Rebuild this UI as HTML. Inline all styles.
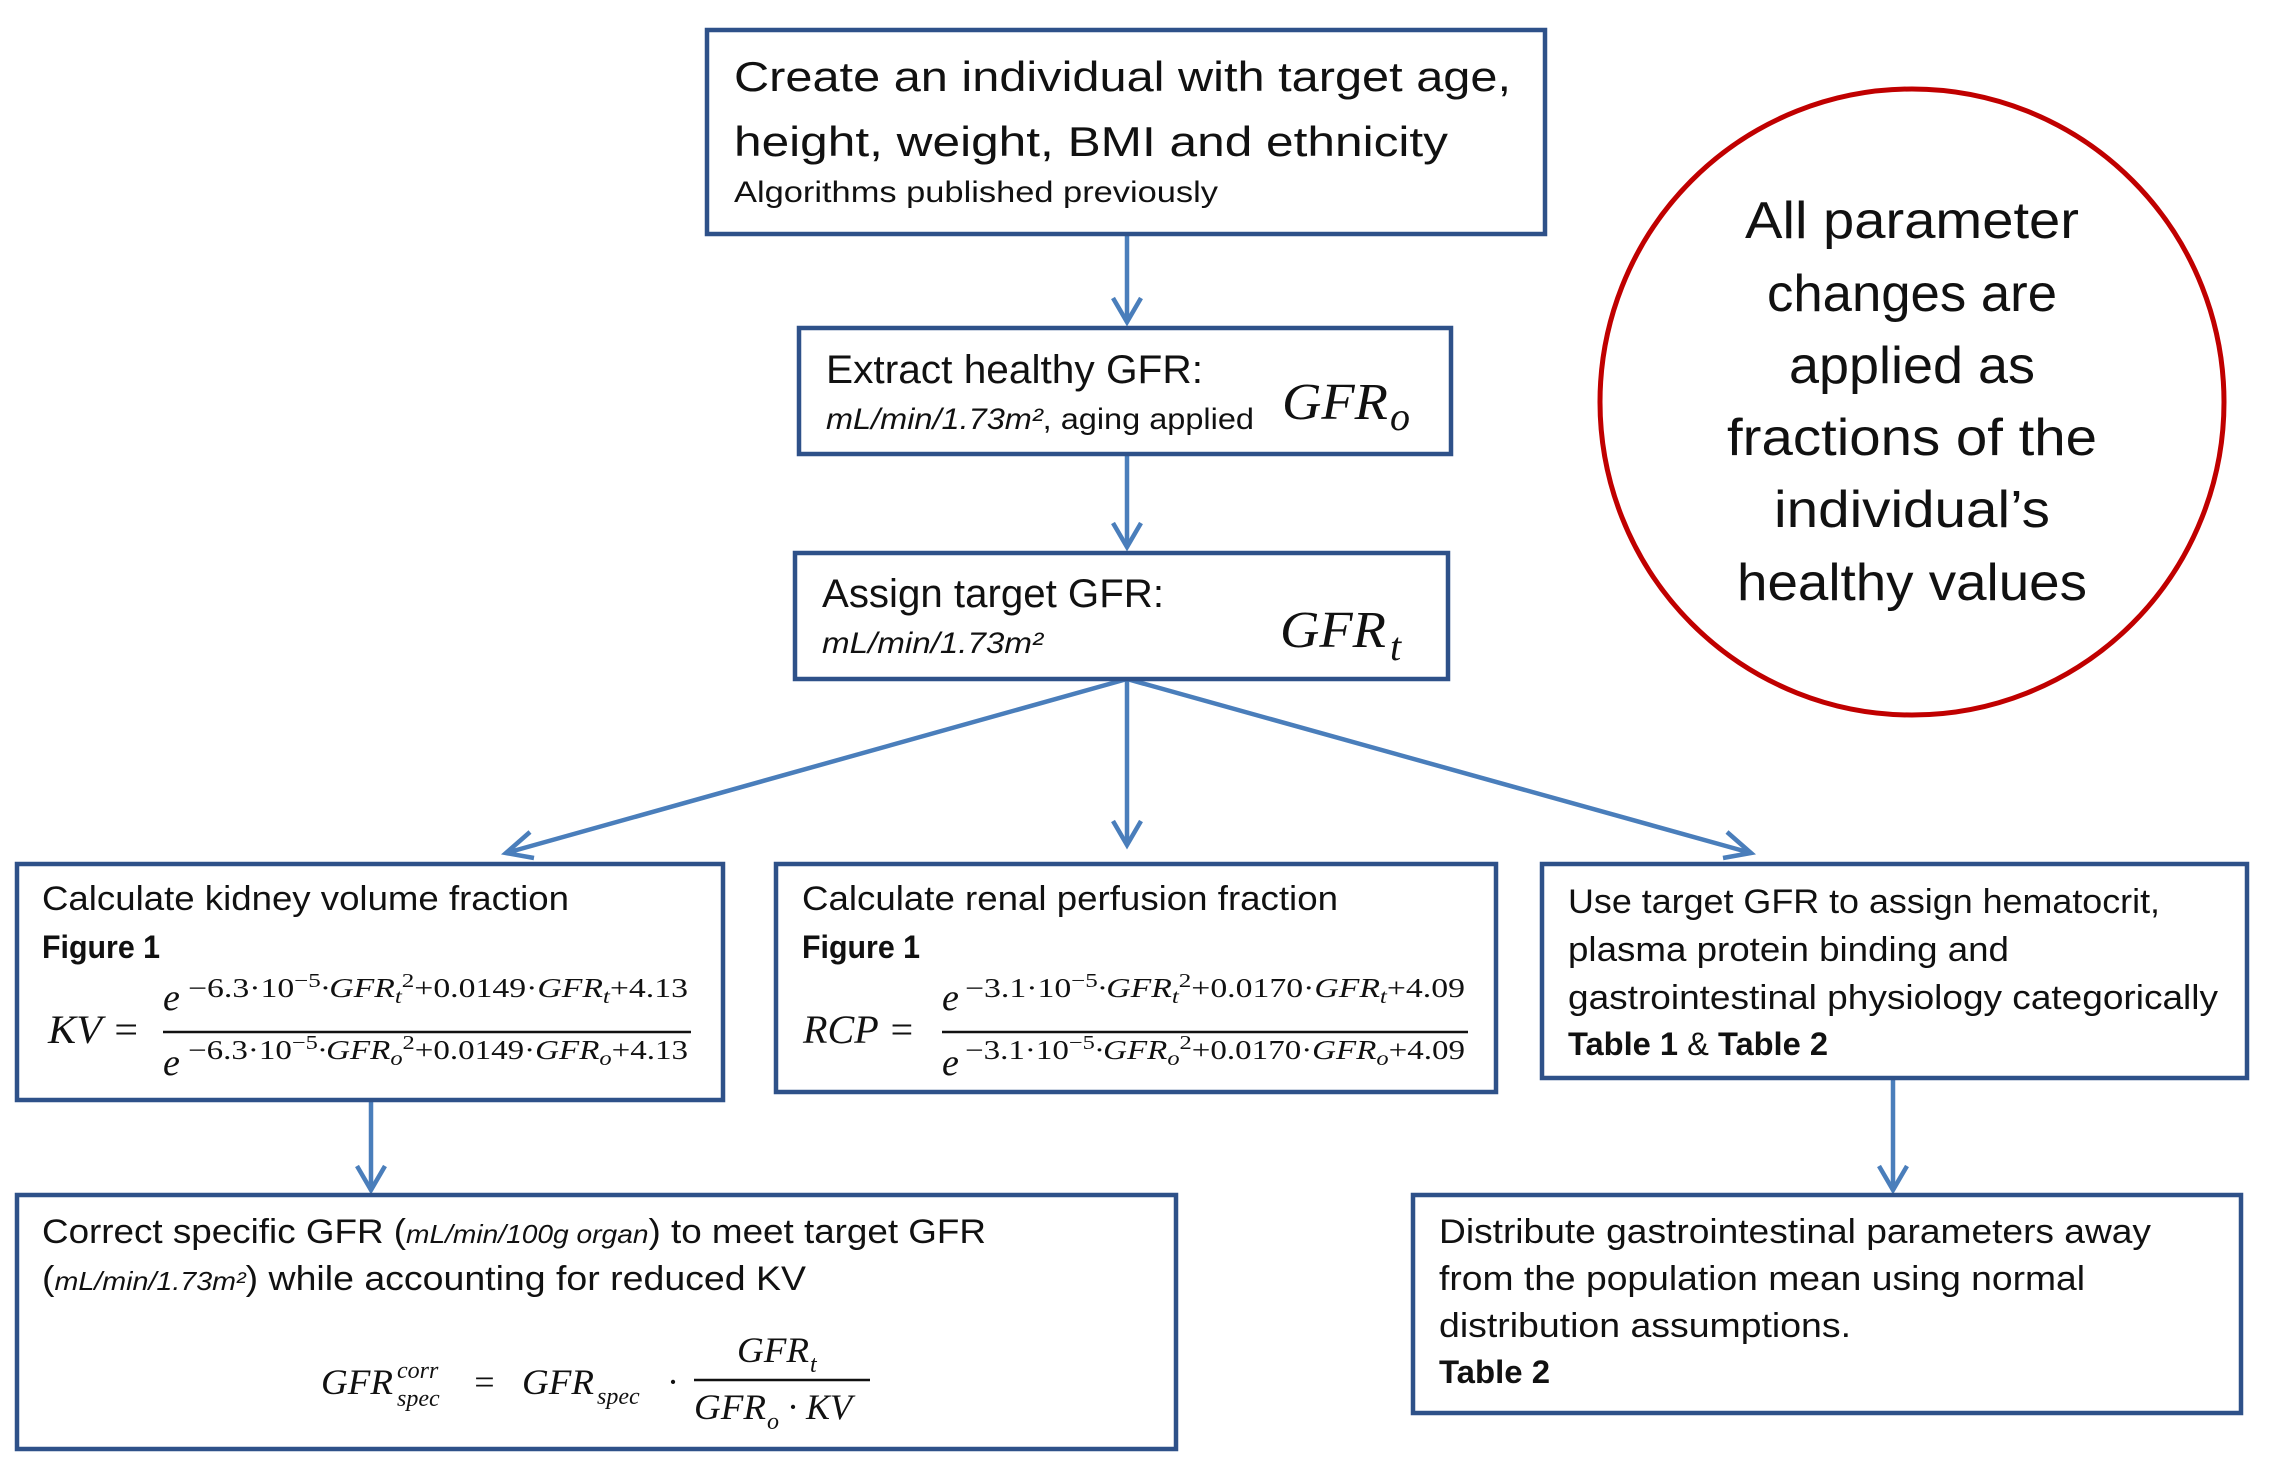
<!DOCTYPE html>
<html><head><meta charset="utf-8"><style>
html,body{margin:0;padding:0;background:#fff;}
svg{display:block;}
.t{font-family:"Liberation Sans",sans-serif;fill:#111;}
.m{font-family:"Liberation Serif",serif;font-style:italic;fill:#111;}
.box{fill:#fff;stroke:#2e5189;stroke-width:4.5;}
.ar{stroke:#4a7ebb;stroke-width:4.5;fill:none;}
</style></head><body>
<svg width="2269" height="1467" viewBox="0 0 2269 1467" xmlns="http://www.w3.org/2000/svg">
<!-- arrows -->
<g class="ar">
<line x1="1127" y1="234" x2="1127" y2="322"/><polyline points="1113,298 1127,322 1141,298"/>
<line x1="1127" y1="454" x2="1127" y2="547"/><polyline points="1113,523 1127,547 1141,523"/>
<line x1="1127" y1="679" x2="506" y2="853"/><polyline points="530,832 506,853 534,858"/>
<line x1="1127" y1="679" x2="1127" y2="845"/><polyline points="1113,821 1127,845 1141,821"/>
<line x1="1127" y1="679" x2="1751" y2="853"/><polyline points="1723,858 1751,853 1727,832"/>
<line x1="371" y1="1100" x2="371" y2="1190"/><polyline points="357,1166 371,1190 385,1166"/>
<line x1="1893" y1="1078" x2="1893" y2="1190"/><polyline points="1879,1166 1893,1190 1907,1166"/>
</g>
<!-- boxes -->
<rect class="box" x="707" y="30" width="838" height="204"/>
<rect class="box" x="799" y="328" width="652" height="126"/>
<rect class="box" x="795" y="553" width="653" height="126"/>
<rect class="box" x="17" y="864" width="706" height="236"/>
<rect class="box" x="776" y="864" width="720" height="228"/>
<rect class="box" x="1542" y="864" width="705" height="214"/>
<rect class="box" x="17" y="1195" width="1159" height="254"/>
<rect class="box" x="1413" y="1195" width="828" height="218"/>
<ellipse cx="1912" cy="402" rx="312" ry="313" fill="#fff" stroke="#c00000" stroke-width="5"/>

<!-- box1 -->
<text class="t" x="734" y="91" font-size="42" textLength="777" lengthAdjust="spacingAndGlyphs">Create an individual with target age,</text>
<text class="t" x="734" y="156" font-size="42" textLength="714" lengthAdjust="spacingAndGlyphs">height, weight, BMI and ethnicity</text>
<text class="t" x="734" y="202" font-size="30" textLength="484" lengthAdjust="spacingAndGlyphs">Algorithms published previously</text>
<!-- box2 -->
<text class="t" x="826" y="383" font-size="40" textLength="377" lengthAdjust="spacingAndGlyphs">Extract healthy GFR:</text>
<text class="t" x="826" y="429" font-size="30" textLength="428" lengthAdjust="spacingAndGlyphs"><tspan font-style="italic">mL/min/1.73m²</tspan>, aging applied</text>
<text class="m" x="1282" y="419" font-size="52" textLength="106" lengthAdjust="spacingAndGlyphs">GFR</text>
<text class="m" x="1390" y="430" font-size="40">o</text>
<!-- box3 -->
<text class="t" x="822" y="607" font-size="40" textLength="342" lengthAdjust="spacingAndGlyphs">Assign target GFR:</text>
<text class="t" x="822" y="653" font-size="30" font-style="italic" textLength="221" lengthAdjust="spacingAndGlyphs">mL/min/1.73m²</text>
<text class="m" x="1280" y="647" font-size="52" textLength="106" lengthAdjust="spacingAndGlyphs">GFR</text>
<text class="m" x="1390" y="660" font-size="40">t</text>
<!-- circle -->
<g class="t" font-size="52" text-anchor="middle">
<text x="1912" y="238" textLength="334" lengthAdjust="spacingAndGlyphs">All parameter</text>
<text x="1912" y="311" textLength="290" lengthAdjust="spacingAndGlyphs">changes are</text>
<text x="1912" y="383" textLength="246" lengthAdjust="spacingAndGlyphs">applied as</text>
<text x="1912" y="455" textLength="370" lengthAdjust="spacingAndGlyphs">fractions of the</text>
<text x="1912" y="527" textLength="276" lengthAdjust="spacingAndGlyphs">individual’s</text>
<text x="1912" y="600" textLength="350" lengthAdjust="spacingAndGlyphs">healthy values</text>
</g>
<!-- box4 -->
<text class="t" x="42" y="910" font-size="34" textLength="527" lengthAdjust="spacingAndGlyphs">Calculate kidney volume  fraction</text>
<text class="t" x="42" y="958" font-size="32" font-weight="bold" textLength="118" lengthAdjust="spacingAndGlyphs">Figure 1</text>
<text class="m" x="48" y="1043" font-size="40" textLength="92" lengthAdjust="spacingAndGlyphs">KV =</text>
<line x1="163" y1="1032" x2="691" y2="1032" stroke="#111" stroke-width="2.5"/>
<text class="m" x="163" y="1010" font-size="38">e</text>
<text class="m" x="188" y="997" font-size="27" textLength="500" lengthAdjust="spacingAndGlyphs"><tspan font-style="normal">−6.3·10</tspan><tspan font-style="normal" dy="-10" font-size="20">−5</tspan><tspan dy="10">·GFR</tspan><tspan font-size="20" dy="6">t</tspan><tspan font-style="normal" font-size="20" dy="-16">2</tspan><tspan font-style="normal" dy="10">+0.0149·</tspan>GFR<tspan font-size="20" dy="6">t</tspan><tspan font-style="normal" dy="-6">+4.13</tspan></text>
<text class="m" x="163" y="1075" font-size="38">e</text>
<text class="m" x="188" y="1059" font-size="27" textLength="500" lengthAdjust="spacingAndGlyphs"><tspan font-style="normal">−6.3·10</tspan><tspan font-style="normal" dy="-10" font-size="20">−5</tspan><tspan dy="10">·GFR</tspan><tspan font-size="20" dy="6">o</tspan><tspan font-style="normal" font-size="20" dy="-16">2</tspan><tspan font-style="normal" dy="10">+0.0149·</tspan>GFR<tspan font-size="20" dy="6">o</tspan><tspan font-style="normal" dy="-6">+4.13</tspan></text>
<!-- box5 -->
<text class="t" x="802" y="910" font-size="34" textLength="536" lengthAdjust="spacingAndGlyphs">Calculate renal perfusion fraction</text>
<text class="t" x="802" y="958" font-size="32" font-weight="bold" textLength="118" lengthAdjust="spacingAndGlyphs">Figure 1</text>
<text class="m" x="803" y="1043" font-size="40" textLength="112" lengthAdjust="spacingAndGlyphs">RCP =</text>
<line x1="942" y1="1032" x2="1468" y2="1032" stroke="#111" stroke-width="2.5"/>
<text class="m" x="942" y="1010" font-size="38">e</text>
<text class="m" x="965" y="997" font-size="27" textLength="500" lengthAdjust="spacingAndGlyphs"><tspan font-style="normal">−3.1·10</tspan><tspan font-style="normal" dy="-10" font-size="20">−5</tspan><tspan dy="10">·GFR</tspan><tspan font-size="20" dy="6">t</tspan><tspan font-style="normal" font-size="20" dy="-16">2</tspan><tspan font-style="normal" dy="10">+0.0170·</tspan>GFR<tspan font-size="20" dy="6">t</tspan><tspan font-style="normal" dy="-6">+4.09</tspan></text>
<text class="m" x="942" y="1075" font-size="38">e</text>
<text class="m" x="965" y="1059" font-size="27" textLength="500" lengthAdjust="spacingAndGlyphs"><tspan font-style="normal">−3.1·10</tspan><tspan font-style="normal" dy="-10" font-size="20">−5</tspan><tspan dy="10">·GFR</tspan><tspan font-size="20" dy="6">o</tspan><tspan font-style="normal" font-size="20" dy="-16">2</tspan><tspan font-style="normal" dy="10">+0.0170·</tspan>GFR<tspan font-size="20" dy="6">o</tspan><tspan font-style="normal" dy="-6">+4.09</tspan></text>
<!-- box6 -->
<g class="t" font-size="34">
<text x="1568" y="913" textLength="592" lengthAdjust="spacingAndGlyphs">Use target GFR to assign hematocrit,</text>
<text x="1568" y="961" textLength="441" lengthAdjust="spacingAndGlyphs">plasma protein binding and</text>
<text x="1568" y="1009" textLength="650" lengthAdjust="spacingAndGlyphs">gastrointestinal physiology categorically</text>
<text x="1568" y="1055" textLength="260" lengthAdjust="spacingAndGlyphs" font-size="32"><tspan font-weight="bold">Table 1</tspan> &amp; <tspan font-weight="bold">Table 2</tspan></text>
</g>
<!-- box7 -->
<text class="t" x="42" y="1243" font-size="34" textLength="944" lengthAdjust="spacingAndGlyphs">Correct specific GFR (<tspan font-style="italic" font-size="26">mL/min/100g organ</tspan>) to meet target GFR</text>
<text class="t" x="42" y="1290" font-size="34" textLength="764" lengthAdjust="spacingAndGlyphs">(<tspan font-style="italic" font-size="26">mL/min/1.73m²</tspan>) while accounting for reduced KV</text>
<text class="m" x="321" y="1394" font-size="36" textLength="72" lengthAdjust="spacingAndGlyphs">GFR</text>
<text class="m" x="397" y="1378" font-size="24">corr</text>
<text class="m" x="397" y="1406" font-size="24">spec</text>
<text class="m" x="472" y="1394" font-size="36">=</text>
<text class="m" x="522" y="1394" font-size="36" textLength="72" lengthAdjust="spacingAndGlyphs">GFR</text>
<text class="m" x="597" y="1404" font-size="24">spec</text>
<text class="m" x="668" y="1394" font-size="36">·</text>
<line x1="694" y1="1380" x2="870" y2="1380" stroke="#111" stroke-width="2.5"/>
<text class="m" x="737" y="1362" font-size="36" textLength="72" lengthAdjust="spacingAndGlyphs">GFR</text>
<text class="m" x="810" y="1372" font-size="24">t</text>
<text class="m" x="694" y="1419" font-size="36" textLength="72" lengthAdjust="spacingAndGlyphs">GFR</text>
<text class="m" x="767" y="1429" font-size="24">o</text>
<text class="m" x="788" y="1419" font-size="36">· KV</text>
<!-- box8 -->
<g class="t" font-size="34">
<text x="1439" y="1243" textLength="712" lengthAdjust="spacingAndGlyphs">Distribute gastrointestinal parameters away</text>
<text x="1439" y="1290" textLength="646" lengthAdjust="spacingAndGlyphs">from the population  mean using normal</text>
<text x="1439" y="1337" textLength="412" lengthAdjust="spacingAndGlyphs">distribution assumptions.</text>
<text x="1439" y="1383" font-size="32" font-weight="bold" textLength="111" lengthAdjust="spacingAndGlyphs">Table 2</text>
</g>
</svg>
</body></html>
